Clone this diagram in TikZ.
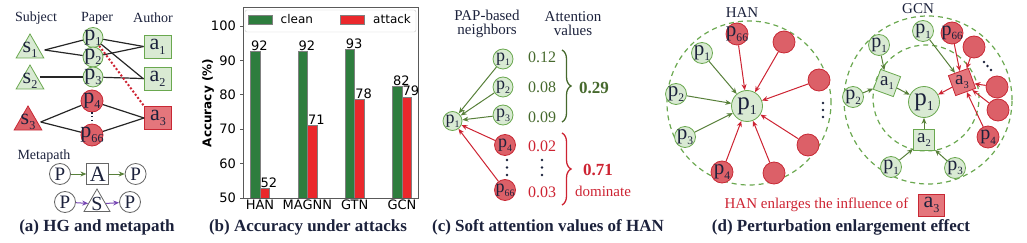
\documentclass[tikz,border=0pt]{standalone}
\usepackage{fontspec}
\setmainfont{Liberation Serif}
\newfontfamily\plotfont{DejaVu Sans}
\usepackage{graphicx}
\usepackage{xcolor}
\usepackage{tikz}
\usetikzlibrary{arrows.meta, positioning, calc, shapes.geometric, decorations.pathreplacing}

\definecolor{txtc}{RGB}{28,34,60}
\definecolor{gfill}{RGB}{217,234,211}
\definecolor{gline}{RGB}{106,168,79}
\definecolor{garrow}{RGB}{88,128,58}
\definecolor{valg}{RGB}{70,105,45}
\definecolor{rfill}{RGB}{220,96,104}
\definecolor{rbfill}{RGB}{228,118,124}
\definecolor{rline}{RGB}{200,40,52}
\definecolor{rarrow}{RGB}{205,35,50}
\definecolor{purp}{RGB}{120,72,180}
\definecolor{barg}{RGB}{46,125,62}
\definecolor{barr}{RGB}{234,40,44}

\newcommand{\fs}[1]{\fontsize{#1}{#1}\selectfont}
% letter with a small lowered index, no width so the shape keeps its size
\newcommand{\nd}[2]{\makebox[0pt]{#1\raisebox{-0.5ex}{\scalebox{0.55}{#2}}}}

\tikzset{
    panel/.style={x=1pt, y=1pt, >={Stealth[length=6pt, width=5pt]}, text=txtc, font=\fs{15}},
    gnode/.style={circle, draw=gline, line width=0.8pt, fill=gfill, minimum size=20pt, inner sep=0pt, font=\fs{22}},
    rnode/.style={circle, draw=rline, line width=0.8pt, fill=rfill, minimum size=22pt, inner sep=0pt, font=\fs{22}},
    gbox/.style={draw=gline, line width=0.8pt, fill=gfill, minimum width=27pt, minimum height=23pt, inner sep=0pt, font=\fs{22}},
    rbox/.style={draw=rline, line width=0.8pt, fill=rbfill, minimum width=27pt, minimum height=23pt, inner sep=0pt, font=\fs{22}},
    gsq/.style={regular polygon, regular polygon sides=4, draw=gline, line width=0.8pt, fill=gfill, minimum size=30pt, inner sep=0pt, font=\fs{19}},
    rsq/.style={regular polygon, regular polygon sides=4, draw=rline, line width=0.8pt, fill=rbfill, minimum size=30pt, inner sep=0pt, font=\fs{19}},
    gtri/.style={regular polygon, regular polygon sides=3, draw=gline, line width=0.8pt, fill=gfill, minimum size=32pt, inner sep=0pt},
    rtri/.style={regular polygon, regular polygon sides=3, draw=rline, line width=0.8pt, fill=rfill, minimum size=32pt, inner sep=0pt},
    wnode/.style={circle, draw=black!60, line width=0.8pt, fill=white, minimum size=21pt, inner sep=0pt, font=\fs{19}},
    wbox/.style={draw=black!60, line width=0.8pt, fill=white, minimum width=22pt, minimum height=21pt, inner sep=0pt, font=\fs{22}},
    wtri/.style={regular polygon, regular polygon sides=3, draw=black!60, line width=0.8pt, fill=white, minimum size=30pt, inner sep=0pt},
    ring/.style={circle, draw=gline, line width=1.2pt, dash pattern=on 5pt off 4pt, inner sep=0pt},
    link/.style={draw=black!85, line width=1.2pt},
    reddot/.style={draw=rarrow, line width=2pt, dash pattern=on 2pt off 2pt},
    vdots/.style={draw=txtc, line width=1.3pt, dash pattern=on 1.3pt off 2.5pt},
    garr/.style={->, draw=garrow, line width=1pt},
    rarr/.style={->, draw=rarrow, line width=1pt},
    parr/.style={->, draw=purp, line width=1pt},
    head/.style={font=\fs{14}},
    val/.style={font=\fs{16}},
    caption/.style={font=\bfseries\fs{17}},
    gbrace/.style={decorate, decoration={brace, amplitude=9pt}, draw=valg, line width=1.3pt},
    rbrace/.style={decorate, decoration={brace, amplitude=9pt}, draw=rarrow, line width=1.3pt},
    ticklab/.style={font=\plotfont\fs{13}, text=black},
    barlab/.style={font=\plotfont\fs{13}, text=black, anchor=south west, inner sep=0.5pt},
    axisline/.style={draw=black!65, line width=0.8pt},
    patch/.style={draw=black!50, minimum width=24pt, minimum height=9pt, inner sep=0pt},
}

\begin{document}
\begin{tikzpicture}[panel]
    \useasboundingbox (0,0) rectangle (1027,-243);

    % (a) graph and metapath
    \node[head] (hsub) at (36,-18)  {Subject};
    \node[head] (hpap) at (97,-18)  {Paper};
    \node[head] (haut) at (153,-18) {Author};

    \node[gtri, label={[font=\fs{22}]center:\nd{s}{1}}] (s1) at (30,-50)  {};
    \node[gtri, label={[font=\fs{22}]center:\nd{s}{2}}] (s2) at (30,-81)  {};
    \node[rtri, label={[font=\fs{22}]center:\nd{s}{3}}] (s3) at (28,-122) {};
    \node[gnode] (p1)  at (93,-37.5) {\nd{p}{1}};
    \node[gnode] (p2)  at (93,-57)   {\nd{p}{2}};
    \node[gnode] (p3)  at (93,-77)   {\nd{p}{3}};
    \node[rnode] (p4)  at (92,-101)  {\nd{p}{4}};
    \node[rnode] (p66) at (92,-135)  {\nd{p}{66}};
    \node[gbox]  (a1)  at (157.5,-46.5) {\nd{a}{1}};
    \node[gbox]  (a2)  at (157.5,-79)   {\nd{a}{2}};
    \node[rbox]  (a3)  at (158,-118)    {\nd{a}{3}};

    \coordinate (s1r) at ([xshift=5pt]s1.east);
    \coordinate (s3r) at ([xshift=3pt]s3.east);
    \draw[link] (s1r) -- (p1);
    \draw[link] (s1r) -- (p2);
    \draw[link] (s2.east |- p3) -- (p3);
    \draw[link] (s3r) -- (p4);
    \draw[link] (s3r) -- (p66);
    \draw[link] (p1) -- (a1.west);
    \draw[link] (p1) -- (a2.west);
    \draw[link] (p2) -- (a1.west);
    \draw[link] (p3) -- (a2);
    \draw[link] (p4) -- (a3.west);
    \draw[link] (p66) -- (a3.west);
    \draw[reddot] (p1) -- (a3.north west);
    \draw[vdots] (p4) -- (p66);

    \node[head, anchor=west] (mlab) at (14,-156) {Metapath};
    \node[wnode] (m1) at (60,-174) {P};
    \node[wbox, right=15.5pt of m1] (ma) {A};
    \node[wnode, right=15.5pt of ma] (m2) {P};
    \draw[garr] (m1) -- (ma);
    \draw[garr] (ma) -- (m2);
    \node[wnode] (n1) at (65,-202) {P};
    \node[wtri, label={[font=\fs{20}]center:S}] (ns) at (97,-204) {};
    \node[wnode] (n2) at (130,-202) {P};
    \draw[parr] (n1) -- (ns);
    \draw[parr] (ns) -- (n2);
    \node[caption] (capa) at (97,-227) {(a) HG and metapath};

    % (b) accuracy under attacks, 10 points = 34.4pt, base 50 at y=-198
    \foreach \v in {50,60,...,100} {
        \draw[axisline] (243,{-198+(\v-50)*3.44}) -- ++(-3.5,0);
        \node[ticklab, anchor=east, inner sep=2pt] (yt\v) at (238,{-198+(\v-50)*3.44}) {\v};
    }
    \foreach \i/\c/\a/\lc/\la/\nm in {0/92.6/52.8/92/52/HAN, 1/92.6/71.1/92/71/MAGNN, 2/93.2/78.6/93/78/GTN, 3/82.5/79.4/82/79/GCN} {
        \pgfmathsetmacro\xc{260+47.33*\i}
        \filldraw[fill=barg, draw=black!50, line width=0.5pt] ({\xc-9.5},-198) rectangle (\xc,{-198+(\c-50)*3.44});
        \filldraw[fill=barr, draw=black!50, line width=0.5pt] (\xc,-198) rectangle ({\xc+9.5},{-198+(\a-50)*3.44});
        \node[barlab] (lc\i) at ({\xc-9.5},{-198+(\c-50)*3.44}) {\lc};
        \node[barlab] (la\i) at (\xc,{-198+(\a-50)*3.44}) {\la};
        \node[ticklab, anchor=north, inner sep=1pt] (xt\i) at (\xc,-199) {\nm};
    }
    \draw[axisline] (243,-7) rectangle (418,-198);
    \node[rotate=90, font=\plotfont\bfseries\fs{12}, text=black] (ylab) at (208,-103) {Accuracy (\%)};
    \node[draw=black!20, fill=white, rounded corners=2pt, minimum width=171pt, minimum height=22pt] (legbox) at (330.5,-21) {};
    \node[patch, fill=barg] (legc) at (260,-19.5) {};
    \node[font=\plotfont\fs{12}, text=black, right=5pt of legc] (legct) {clean};
    \node[patch, fill=barr] (lega) at (352.5,-19.5) {};
    \node[font=\plotfont\fs{12}, text=black, right=5pt of lega] (legat) {attack};
    \node[caption] (capb) at (308,-227) {(b) Accuracy under attacks};

    % (c) soft attention
    \node[align=center] (chd1) at (487,-24) {PAP-based\\[-1pt]neighbors};
    \node[align=center] (chd2) at (573,-24) {Attention\\[-1pt]values};
    \node[gnode, minimum size=19pt, font=\fs{18}] (cp)  at (452.5,-121) {\nd{p}{1}};
    \node[gnode, minimum size=20pt, font=\fs{18}] (cn1) at (503,-59)  {\nd{p}{1}};
    \node[gnode, minimum size=20pt, font=\fs{18}] (cn2) at (503,-87)  {\nd{p}{2}};
    \node[gnode, minimum size=20pt, font=\fs{18}] (cn3) at (503,-115) {\nd{p}{3}};
    \node[rnode, minimum size=21pt, font=\fs{18}] (cn4) at (505,-145) {\nd{p}{4}};
    \node[rnode, minimum size=21pt, font=\fs{18}] (cn66) at (505,-190) {\nd{p}{66}};
    \draw[garr] (cn1) -- (cp);
    \draw[garr] (cn2) -- (cp);
    \draw[garr] (cn3) -- (cp);
    \draw[rarr] (cn4) -- (cp);
    \draw[rarr] (cn66) -- (cp);
    \foreach \dy in {-160,-167.5,-175} {
        \fill[txtc] (507,\dy) circle (1.4pt);
        \fill[txtc] (542,\dy) circle (1.4pt);
    }
    \node[val, text=valg]   (v1)  at (542,-57)  {0.12};
    \node[val, text=valg]   (v2)  at (542,-87)  {0.08};
    \node[val, text=valg]   (v3)  at (542,-117) {0.09};
    \node[val, text=rarrow] (v4)  at (542,-146) {0.02};
    \node[val, text=rarrow] (v66) at (542,-192) {0.03};
    \draw[gbrace] (562,-50) -- (562,-122);
    \draw[rbrace] (562,-133) -- (562,-205);
    \node[font=\bfseries\fs{17}, text=valg]   (sg) at (594,-88)  {0.29};
    \node[font=\bfseries\fs{17}, text=rarrow] (sr) at (598,-170) {0.71};
    \node[text=rarrow] (dom) at (603,-191) {dominate};
    \node[caption] (capc) at (548,-227) {(c) Soft attention values of HAN};

    % (d) HAN side
    \node (thn) at (742,-13) {HAN};
    \node[ring, minimum size=164pt] (hring) at (749,-103) {};
    \node[gnode, minimum size=31pt, font=\fs{25}] (hc) at (747,-106) {\nd{p}{1}};
    \node[gnode, minimum size=21pt, font=\fs{21}] (hp1) at (702,-53)  {\nd{p}{1}};
    \node[gnode, minimum size=21pt, font=\fs{21}] (hp2) at (676,-94)  {\nd{p}{2}};
    \node[gnode, minimum size=21pt, font=\fs{21}] (hp3) at (685,-137) {\nd{p}{3}};
    \node[rnode, font=\fs{21}] (hp66) at (737,-34)  {\nd{p}{66}};
    \node[rnode, font=\fs{21}] (hp4)  at (722,-172) {\nd{p}{4}};
    \node[rnode] (hr1) at (784,-42)  {};
    \node[rnode] (hr2) at (819,-80)  {};
    \node[rnode] (hr3) at (808,-145) {};
    \node[rnode] (hr4) at (774,-173) {};
    \foreach \dy in {-103,-110,-117}
        \fill[txtc] (823,\dy) circle (1.4pt);
    \draw[garr] (hp1) -- (hc);
    \draw[garr] (hp2) -- (hc);
    \draw[garr] (hp3) -- (hc);
    \draw[rarr] (hp66) -- (hc);
    \draw[rarr] (hp4) -- (hc);
    \draw[rarr] (hr1) -- (hc);
    \draw[rarr] (hr2) -- (hc);
    \draw[rarr] (hr3) -- (hc);
    \draw[rarr] (hr4) -- (hc);

    % (d) GCN side
    \node (tgc) at (918,-9) {GCN};
    \node[ring, minimum size=168pt] (gring1) at (928,-100) {};
    \node[ring, minimum size=106pt] (gring2) at (926,-98) {};
    \node[gnode, minimum size=31pt, font=\fs{25}] (gc) at (924,-102) {\nd{p}{1}};
    \node[gsq, shape border rotate=-20] (ga1) at (887,-83)  {\nd{a}{1}};
    \node[rsq, shape border rotate=20]  (ga3) at (962,-82)  {\nd{a}{3}};
    \node[gsq] (ga2) at (924,-140) {\nd{a}{2}};
    \node[gnode, minimum size=21pt, font=\fs{20}] (gp1a) at (879,-45)  {\nd{p}{1}};
    \node[gnode, minimum size=21pt, font=\fs{20}] (gp2)  at (853,-97)  {\nd{p}{2}};
    \node[gnode, minimum size=21pt, font=\fs{20}] (gp1c) at (923,-31)  {\nd{p}{1}};
    \node[gnode, minimum size=21pt, font=\fs{20}] (gp1b) at (891,-167) {\nd{p}{1}};
    \node[gnode, minimum size=21pt, font=\fs{20}] (gp3)  at (955,-168) {\nd{p}{3}};
    \node[rnode, font=\fs{20}] (gp66) at (952,-33)  {\nd{p}{66}};
    \node[rnode] (gr1) at (974,-47)  {};
    \node[rnode] (gr2) at (997,-87)  {};
    \node[rnode] (gr3) at (998,-110) {};
    \node[rnode, font=\fs{20}] (gp4) at (988,-137) {\nd{p}{4}};
    \foreach \d in {0,1,2}
        \fill[txtc] ($(984,-62)+(3.5*\d,-4*\d)$) circle (1.4pt);
    \draw[garr] (gp1a) -- (ga1);
    \draw[garr] (gp2) -- (ga1);
    \draw[garr] (ga1) -- (gc);
    \draw[garr] (gp1b) -- (ga2);
    \draw[garr] (gp3) -- (ga2);
    \draw[garr] (ga2) -- (gc);
    \draw[garr] (gp1c) -- (ga3);
    \draw[rarr] (gp66) -- (ga3);
    \draw[rarr] (gr1) -- (ga3);
    \draw[rarr] (gr2) -- (ga3);
    \draw[rarr] (gr3) -- (ga3);
    \draw[rarr] (gp4) -- (ga3);
    \draw[rarr] (ga3) -- (gc);

    \node[text=rarrow, anchor=east] (enl) at (912,-205) {HAN enlarges the influence of};
    \node[rbox, minimum width=26pt, minimum height=22pt, right=6pt of enl] (ea3) {\nd{a}{3}};
    \node[caption] (capd) at (841,-227) {(d) Perturbation enlargement effect};
\end{tikzpicture}
\end{document}
